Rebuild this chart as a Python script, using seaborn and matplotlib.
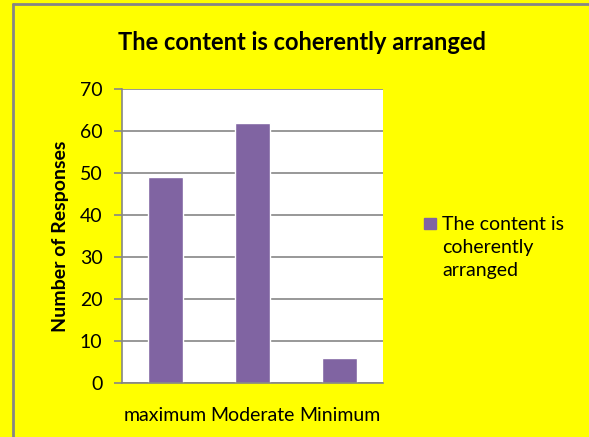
import matplotlib
matplotlib.use("Agg")
import matplotlib.pyplot as plt
import seaborn as sns
from matplotlib.lines import Line2D
from matplotlib.patches import Rectangle

# data
categories = ["maximum", "Moderate", "Minimum"]
responses = [49, 62, 6]
series_label = "The content is\ncoherently\narranged"
title = "The content is coherently arranged"
y_ticks = [0, 10, 20, 30, 40, 50, 60, 70]

sns.set_style("white")
plt.rcParams["font.family"] = ["Lato", "DejaVu Sans"]
plt.rcParams["text.color"] = "black"
plt.rcParams["xtick.color"] = "black"
plt.rcParams["ytick.color"] = "black"
plt.rcParams["axes.labelcolor"] = "black"

yellow = "#FFFF00"
purple = "#8064A2"
grey = "#868686"

fig = plt.figure(figsize=(5.89, 4.37), dpi=100, facecolor=yellow)
ax = fig.add_axes([122 / 589, 54 / 437, 261 / 589, 294 / 437])
ax.set_facecolor("white")

sns.barplot(x=categories, y=responses, color=purple, width=0.4,
            saturation=1, ax=ax)

ax.set_ylim(0, 70)
ax.set_yticks(y_ticks)
ax.yaxis.grid(True, color=grey, linewidth=1.2)
ax.set_axisbelow(True)
for side in ["top", "right"]:
    ax.spines[side].set_visible(False)
for side in ["left", "bottom"]:
    ax.spines[side].set_color(grey)
    ax.spines[side].set_linewidth(1.2)
ax.tick_params(axis="y", left=True, length=6, width=1.2, color=grey,
               labelsize=14, pad=8)
ax.tick_params(axis="x", bottom=False, labelsize=14, pad=14)
ax.set_xlabel("")
ax.set_ylabel("Number of Responses", fontsize=14, fontweight="bold", labelpad=8)

fig.text(302 / 589, 1 - 42 / 437, title, ha="center", va="center",
         fontsize=17, fontweight="bold")

# legend: square key aligned with first line of a wrapped label
fig.add_artist(Rectangle((424 / 589, 1 - 229 / 437), 12 / 589, 11 / 437,
                         transform=fig.transFigure, color=purple))
fig.text(442 / 589, 1 - 216 / 437, series_label, ha="left", va="top",
         fontsize=14, linespacing=1.42)

# chart border (top and left edges visible)
fig.add_artist(Line2D([13 / 589, 13 / 589], [0, 1 - 4 / 437],
                      transform=fig.transFigure, color=grey, linewidth=2))
fig.add_artist(Line2D([13 / 589, 1], [1 - 4 / 437, 1 - 4 / 437],
                      transform=fig.transFigure, color=grey, linewidth=2))

fig.savefig("out.png", dpi=100, facecolor=yellow)
